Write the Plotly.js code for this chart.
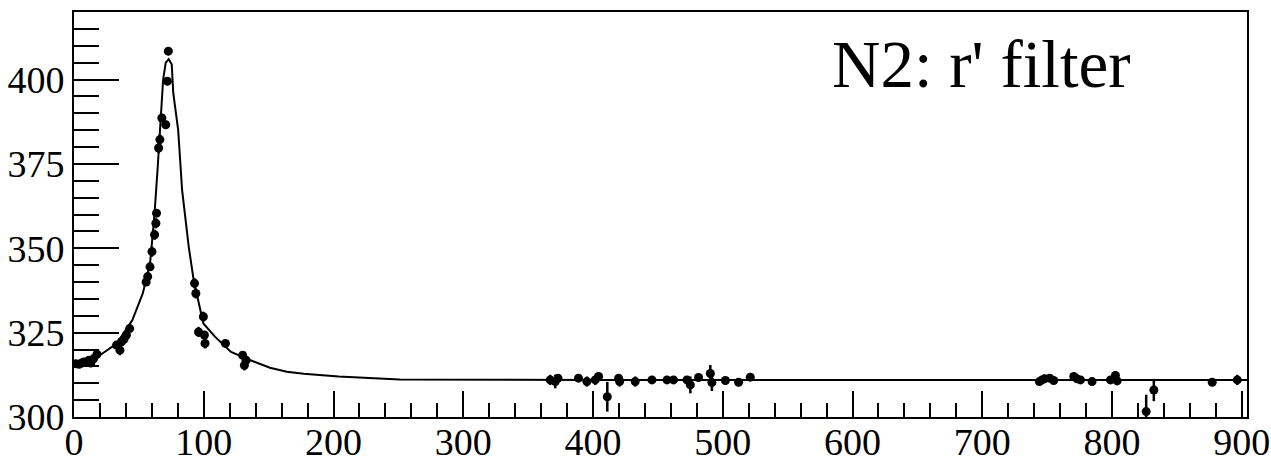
<!DOCTYPE html>
<html>
<head>
<meta charset="utf-8">
<script src="https://cdn.plot.ly/plotly-3.0.1.min.js"></script>
<style>
  html, body { margin: 0; padding: 0; background: #ffffff; }
  #chart { width: 1271px; height: 468px; }
</style>
</head>
<body>
<div id="chart"></div>
<script>
// Measured points (position vs. value) with their uncertainties
const obsX = [
  1.3, 3.8, 6, 7.6, 10, 11.4, 13, 15.2, 17.7,
  32.8, 35.4, 36.6, 38.5, 40.4, 42.9,
  55.6, 56.8, 58.6, 60.1, 62.1, 63.1, 63.6,
  65.2, 66.2, 67.7, 70.7, 72, 72.7,
  92.9, 93.9, 96, 99.7, 100.5, 101,
  116.7, 130, 131.3, 132.6,
  367, 370.9, 373, 388.8, 395.3, 401.7, 404.3, 411, 419.7, 420.5,
  432.5, 445.4, 457, 462, 472.4, 475, 481.3, 490.4, 491.6, 502, 512.2, 521.2,
  744, 746, 748, 752, 755, 770.5, 773, 775.7, 784.6, 798.8, 802.6, 803.9,
  826.3, 832.2, 877.2, 896.5
];
const obsY = [
  315.8, 315.6, 316, 316.3, 316.2, 316.8, 316, 317.3, 318.6,
  321.3, 319.8, 322.3, 323, 324.3, 326.2,
  340, 341.6, 344.5, 349, 354, 357.4, 360.4,
  379.7, 382.2, 388.6, 386.6, 399.5, 408.4,
  339.6, 336.6, 325.2, 329.7, 324.3, 321.8,
  321.8, 318.3, 315.3, 316.8,
  311, 310.5, 311.5, 311.5, 310.5, 311, 312, 306, 311.5, 310.5,
  310.5, 311, 311, 311, 311, 309.5, 311.7, 312.9, 310.2, 310.8, 310.3, 311.8,
  310.5, 311, 311.3, 311.5, 310.8, 312, 311.3, 311, 310.5, 311, 312.3, 310.7,
  301.6, 308, 310.3, 311
];
const obsErr = [
  1, 1, 1, 1, 1, 1, 1.2, 1, 1,
  1.2, 1.5, 1, 1, 1, 1,
  1, 1, 1, 1.5, 1.5, 1.5, 1.2,
  1.5, 1.5, 1.2, 1.2, 1.2, 1.2,
  1.5, 1.5, 1.5, 1.5, 1, 1.5,
  1, 1, 1.5, 1,
  1.5, 2, 1, 1, 1.5, 1.5, 1, 4.4, 1, 1.5,
  1.5, 1, 1, 1, 1, 2.5, 1, 2.5, 2.5, 1, 1.2, 1,
  1, 1, 1.2, 1, 1, 1, 1, 1, 0.8, 1, 1.2, 1,
  5, 3.3, 1, 1.5
];

// Fitted resonance curve
const fitX = [
  0, 10, 20, 33, 45, 53, 58.6, 61.9, 64.4, 66.9,
  68.7, 70.7, 73, 75.3, 76.5, 80.3, 83.3, 88.4, 92.2, 99.7,
  108.6, 121, 136, 151, 164, 177, 204, 251, 300, 400,
  500, 600, 700, 800, 904
];
const fitY = [
  315.6, 316.5, 318.3, 321.8, 328.7, 336.6, 345.5, 359.4, 373.3, 390.1,
  400, 405, 406, 404.5, 396, 385, 367.3, 350.5, 340.6, 327.7,
  323.8, 319.3, 316.8, 314.6, 313.4, 312.8, 312, 311.1, 311, 311,
  311, 311, 311, 311, 311
];

const titleText = "N2: r' filter";

const tickFont = { family: 'Liberation Serif, serif', size: 38, color: '#000000' };

const traces = [
  {
    type: 'scatter',
    mode: 'lines',
    x: fitX,
    y: fitY,
    line: { color: '#000000', width: 2 },
    hoverinfo: 'skip'
  },
  {
    type: 'scatter',
    mode: 'markers',
    x: obsX,
    y: obsY,
    marker: { color: '#000000', size: 9, symbol: 'circle' },
    error_y: { type: 'data', array: obsErr, visible: true, color: '#000000', thickness: 2.5, width: 0 }
  }
];

const axisBase = {
  showgrid: false,
  zeroline: false,
  showline: true,
  linecolor: '#000000',
  linewidth: 2,
  mirror: true,
  ticks: 'inside',
  tickcolor: '#000000',
  tickwidth: 2,
  tickfont: tickFont,
  ticklabeloverflow: 'allow'
};

const layout = {
  width: 1271,
  height: 468,
  margin: { l: 74, r: 24, t: 12, b: 51 },
  paper_bgcolor: '#ffffff',
  plot_bgcolor: '#ffffff',
  showlegend: false,
  xaxis: Object.assign({}, axisBase, {
    range: [0, 904],
    tick0: 0,
    dtick: 100,
    ticklen: 26,
    ticklabelstandoff: -10,
    minor: { ticks: 'inside', dtick: 20, ticklen: 14, tickwidth: 2, tickcolor: '#000000' }
  }),
  yaxis: Object.assign({}, axisBase, {
    range: [300, 420],
    tick0: 300,
    dtick: 25,
    ticklen: 45,
    minor: { ticks: 'inside', dtick: 5, ticklen: 25, tickwidth: 2, tickcolor: '#000000' }
  }),
  annotations: [
    {
      xref: 'paper', yref: 'paper',
      x: 0.6445, y: 0.872,
      xanchor: 'left', yanchor: 'middle',
      showarrow: false,
      text: titleText,
      font: { family: 'Liberation Serif, serif', size: 67, color: '#000000' }
    }
  ]
};

Plotly.newPlot('chart', traces, layout, { staticPlot: true, displayModeBar: false });
</script>
</body>
</html>
